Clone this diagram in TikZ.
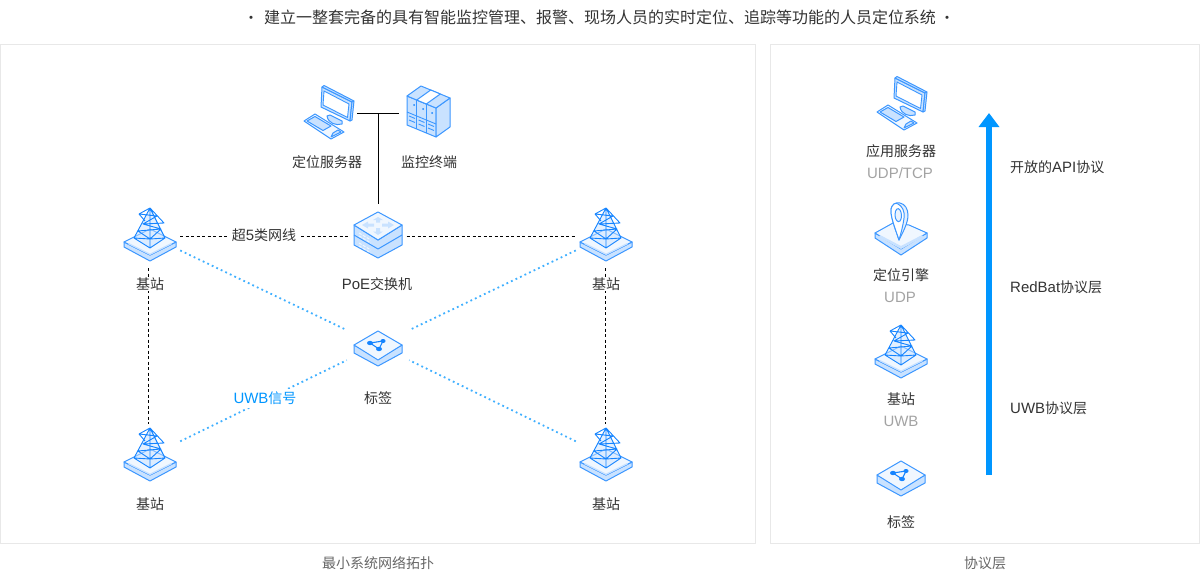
\documentclass[tikz,border=0pt]{standalone}
\usepackage{fontspec}
\setmainfont{Noto Sans CJK SC}
\newfontfamily\latf{Liberation Sans}[Scale=1.07]
\usetikzlibrary{arrows.meta}
\definecolor{ink}{HTML}{333333}
\definecolor{soft}{HTML}{A3A3A3}
\definecolor{edgeg}{HTML}{E8E8E8}
\definecolor{stroke}{HTML}{3C97FF}
\definecolor{lite}{HTML}{C9E2FF}
\definecolor{pale}{HTML}{F0F7FF}
\definecolor{deep}{HTML}{1584FF}
\definecolor{arrowb}{HTML}{0096FF}
\tikzset{
  panel/.style={draw=edgeg,line width=1pt,fill=white},
  lbl/.style={font=\fontsize{14}{16}\selectfont,text=ink,fill=white,inner sep=1pt},
  sublbl/.style={font=\fontsize{14}{16}\selectfont,text=soft,inner sep=1pt},
  hub/.style={draw=none,inner sep=0pt,minimum width=#1,minimum height=64pt},
  hub/.default=60pt,
  wire/.style={draw=black,line width=1pt},
  dashwire/.style={draw=black,line width=0.9pt,dash pattern=on 3pt off 2.5pt},
  dotwire/.style={draw=arrowb!75,line width=1.8pt,dash pattern=on 1.8pt off 3.2pt},
  ic/.style={draw=stroke,line width=1pt,line join=round},
  pics/plate/.style={code={
    \path[ic,fill=lite] (-26,6)--(0,19)--(26,6)--(26,11)--(0,25)--(-26,11)--cycle;
    \path[ic,fill=pale] (-26,6)--(0,-7)--(26,6)--(0,19)--cycle;
    \path[fill=lite] (-21,7)--(0,17.5)--(21,7)--(22,8)--(0,19)--(-22,8)--cycle;
  }},
  pics/bsicon/.style={code={
    \pic {plate};
    \path[fill=lite,opacity=.5] (0,-28)--(-16,2)--(0,12)--(15,2)--cycle;
    \path[draw=deep,line width=0.9pt,line join=round] (0,-28)--(-16,2)--(0,12)--(15,2)--cycle (0,-28)--(0,12)
      (-11,-22)--(0,-28)--(14,-13)--(-7,-12)--(11,-7)--(-12,-5)
      (-11,-22)--(7,-20)--(-7,-12) (-11,-22)--(-5,-15) (-12,-5)--(0,3)--(11,-7) (-16,2)--(0,3)--(15,2);
  }},
  pics/switchicon/.style={code={
    \path[ic,fill=lite] (-24,-11)--(0,4)--(24,-11)--(24,9)--(0,22)--(-24,9)--cycle;
    \path[ic] (-24,-1)--(0,13)--(24,-1);
    \path[draw=pale,line width=1pt,dash pattern=on 3pt off 1.5pt] (-19,-3)--(-7,4) (-19,7)--(-7,14) (-19,0)--(-7,7) (-19,10)--(-7,17);
    \path[ic,fill=pale] (-24,-11)--(0,-24)--(24,-11)--(0,4)--cycle;
    \path[fill=lite] (-16,-11)--(-10,-14.5)--(-10,-12.5)--(-4,-12.5)--(-4,-9.5)--(-10,-9.5)--(-10,-7.5)--cycle
      (16,-11)--(10,-14.5)--(10,-12.5)--(4,-12.5)--(4,-9.5)--(10,-9.5)--(10,-7.5)--cycle
      (0,-19)--(5,-16)--(2,-16)--(2,-13.5)--(-2,-13.5)--(-2,-16)--(-5,-16)--cycle
      (0,-1)--(5,-4.5)--(2,-4.5)--(2,-8)--(-2,-8)--(-2,-4.5)--(-5,-4.5)--cycle;
  }},
  pics/tagicon/.style={code={
    \path[ic,fill=lite] (-24,0)--(0,13)--(24,0)--(24,8)--(0,21)--(-24,8)--cycle;
    \path[ic,fill=pale] (-24,0)--(0,-14)--(24,0)--(0,15)--cycle;
    \path[draw=deep,line width=1.1pt] (-8,-2)--(5,-4)--(1,4)--cycle;
    \path[fill=deep] (-8,-2) ellipse[x radius=3,y radius=2.2] (5,-4) ellipse[x radius=2.6,y radius=2] (1,4) ellipse[x radius=3,y radius=2.2];
  }},
  pics/pcicon/.style={code={
    \path[ic,fill=pale] (-24,8)--(-13,1)--(16,19)--(3,26)--cycle;
    \path[ic,fill=lite] (-21,8)--(-13,3.5)--(3,13)--(-5,17.5)--cycle (5,20)--(10,17)--(13,19)--(3,24)--cycle;
    \path[ic,fill=lite] (-1,3) .. controls (0,10) and (8,13) .. (14,11) -- (14,8) -- (2,2) -- cycle;
    \path[ic,fill=lite] (-6,-26)--(24,-11)--(22,8)--(-7,-6)--cycle;
    \path[ic,fill=lite] (-6,-26)--(-4,-27.5)--(26,-12)--(24,-11)--cycle (24,-11)--(26,-12)--(24,7)--(22,8)--cycle;
    \path[draw=stroke,line width=0.9pt,fill=white] (-4,-22)--(21,-9)--(19.5,4.5)--(-5,-8)--cycle;
  }},
  pics/servericon/.style={code={
    \path[ic,fill=lite] (-17,-17)--(12,-5)--(12,24)--(-17,12)--cycle;
    \path[ic,fill=lite] (12,-5)--(26,-15)--(26,14)--(12,24)--cycle;
    \path[ic,fill=lite] (-17,-17)--(-3,-27)--(26,-15)--(12,-5)--cycle;
    \path[ic,fill=white] (-7.3,-13)--(6.7,-23)--(16.3,-19)--(2.3,-9)--cycle;
    \path[ic] (-7.3,-13)--(-7.3,16) (2.3,-9)--(2.3,20);
    \path[draw=stroke,line width=0.9pt] (-17,-1)--(12,11)
      (-15,3)--(-9,5.5) (-15,7)--(-9,9.5)
      (-5.5,7)--(0.5,9.5) (-5.5,11)--(0.5,13.5)
      (4,11)--(10,13.5) (4,15)--(10,17.5);
    \path[fill=deep] (-10,-8) circle[radius=1] (-1,-4) circle[radius=1] (8,0) circle[radius=1];
  }},
  pics/pinicon/.style={code={
    \path[ic,fill=lite] (-26,-7)--(0,7)--(26,-7)--(26,-2)--(0,15)--(-26,-2)--cycle;
    \path[ic,fill=pale] (-26,-7)--(-8,-17)--(8,-15)--(26,-7)--(0,9)--cycle;
    \path[fill=lite] (-21,-5)--(0,6)--(21,-5)--(22,-3)--(0,9)--(-22,-3)--cycle;
    \path[ic,fill=lite!50!white] (-2,0) .. controls (-6,-12) and (-10,-22) .. (-10,-29) .. controls (-10,-36) and (-5,-38) .. (-1,-37) .. controls (4,-36) and (7,-31) .. (7,-25) .. controls (7,-17) and (2,-8) .. (-2,0) -- cycle;
    \path[ic,fill=white] (-2,0) .. controls (-6,-12) and (-10,-22) .. (-10,-29) .. controls (-10,-36) and (-5,-38) .. (-3,-36) .. controls (1,-34) and (4,-29) .. (3,-22) .. controls (2,-14) and (0,-7) .. (-2,0) -- cycle;
    \path[ic,fill=lite!40!white] (-6,-25) .. controls (-6,-31) and (-3,-33) .. (-1,-30) .. controls (1,-27) and (1,-21) .. (-1,-19) .. controls (-3,-17) and (-6,-20) .. (-6,-25) -- cycle;
  }},
}
\begin{document}
\begin{tikzpicture}[x=1pt,y=-1pt]
\useasboundingbox (0,0) rectangle (1200,570);
\node[panel,minimum width=755pt,minimum height=499pt,inner sep=0pt] (leftpanel) at (378,293.5) {};
\node[panel,minimum width=429pt,minimum height=499pt,inner sep=0pt] (rightpanel) at (984.5,293.5) {};

\node[font=\fontsize{16}{18}\selectfont,text=ink,inner sep=0pt] (title) at (600,17) {建立一整套完备的具有智能监控管理、报警、现场人员的实时定位、追踪等功能的人员定位系统};
\node[font=\fontsize{15}{18}\selectfont,text=ink,inner sep=0pt] (bulla) at (251,20) {•};
\node[font=\fontsize{15}{18}\selectfont,text=ink,inner sep=0pt] (bullb) at (947,20) {•};

% anchors for connectors
\node[hub=58pt] (pc) at (328,113) {};
\node[hub=50pt] (srv) at (424,113) {};
\node[hub=56pt] (sw) at (378.5,236) {};
\node[hub] (bs1) at (150,236) {};
\node[hub] (bs2) at (606,236) {};
\node[hub] (bs3) at (150,456) {};
\node[hub] (bs4) at (606,456) {};
\node[hub=62pt] (tag) at (378,345) {};
\coordinate (tee) at (378.5,113);

\draw[wire] (pc.east)--(srv.west);
\draw[wire] (sw.north)--(tee);
\draw[dashwire] (bs1.east)--(sw.west);
\draw[dashwire] (sw.east)--(bs2.west);
\draw[dashwire] ([xshift=-2pt]bs1.south)--([xshift=-2pt]bs3.north);
\draw[dashwire] ([xshift=-1pt]bs2.south)--([xshift=-1pt]bs4.north);
\draw[dotwire] (bs1)--(tag);
\draw[dotwire] (bs2)--(tag);
\draw[dotwire] (bs3)--(tag);
\draw[dotwire] (bs4)--(tag);

\pic at (328,113) {pcicon};
\pic at (424,113) {servericon};
\pic at (378,236) {switchicon};
\pic at (150,236) {bsicon};
\pic at (606,236) {bsicon};
\pic at (150,456) {bsicon};
\pic at (606,456) {bsicon};
\pic at (378,345) {tagicon};

\node[lbl] (lpc) at (327,162) {定位服务器};
\node[lbl] (lsrv) at (429,162) {监控终端};
\node[lbl,inner sep=3pt] (l5) at (264,235) {超{\latf 5}类网线};
\node[lbl] (lsw) at (377,284) {{\latf PoE}交换机};
\node[lbl] (lb1) at (150,284) {基站};
\node[lbl] (lb2) at (606,284) {基站};
\node[lbl] (lb3) at (150,504) {基站};
\node[lbl] (lb4) at (606,504) {基站};
\node[lbl] (ltag) at (378,398.5) {标签};
\node[lbl,text=arrowb,inner sep=3pt] (luwb) at (265,398.5) {{\latf UWB}信号};

\pic at (901,104) {pcicon};
\pic at (901,240) {pinicon};
\pic at (901,353) {bsicon};
\pic at (901,475) {tagicon};
\node[lbl] (r1) at (901,151) {应用服务器};
\node[sublbl] (r1b) at (900,173) {\latf UDP/TCP};
\node[lbl] (r2) at (901,275) {定位引擎};
\node[sublbl] (r2b) at (900,297) {\latf UDP};
\node[lbl] (r3) at (901,399) {基站};
\node[sublbl] (r3b) at (901,421) {\latf UWB};
\node[lbl] (r4) at (901,522.5) {标签};

\coordinate (arrowlow) at (989,475);
\coordinate (arrowtop) at (989,113);
\draw[arrowb,line width=6pt,-{Triangle[length=14pt,width=20pt]}] (arrowlow)--(arrowtop);

\node[lbl,anchor=west,inner sep=0pt] (p1) at (1010,167) {开放的{\latf API}协议};
\node[lbl,anchor=west,inner sep=0pt] (p2) at (1010,287) {{\latf RedBat}协议层};
\node[lbl,anchor=west,inner sep=0pt] (p3) at (1010,408) {{\latf UWB}协议层};

\node[sublbl,text=ink!75] (cap1) at (378,563) {最小系统网络拓扑};
\node[sublbl,text=ink!75] (cap2) at (985,563) {协议层};
\end{tikzpicture}
\end{document}
